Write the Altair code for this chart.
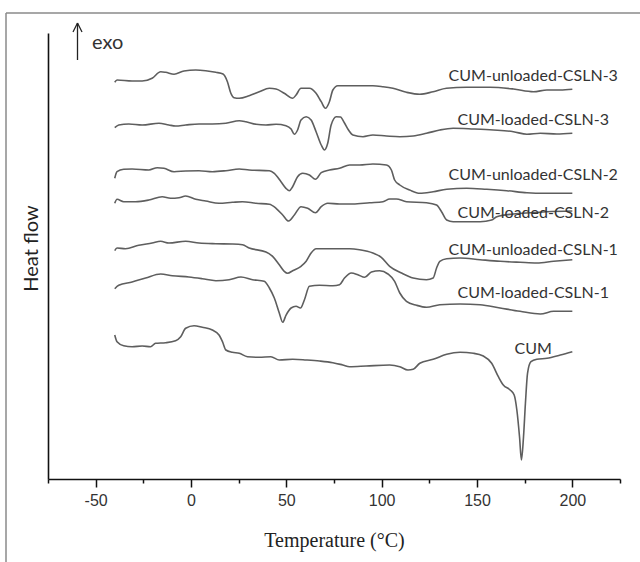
import altair as alt
import pandas as pd

# ---- Data (temperature in degC, heat flow in arbitrary units) ----
series_names = [
    "CUM-unloaded-CSLN-3", "CUM-loaded-CSLN-3", "CUM-unloaded-CSLN-2",
    "CUM-loaded-CSLN-2", "CUM-unloaded-CSLN-1", "CUM-loaded-CSLN-1", "CUM",
]

t_unloaded3 = [-40, -38.8, -30.9, -25.6, -20.4, -15.9, -13.3, -8.9, -3.7, 2.5, 7.7, 13, 16.8, 19.1, 20.9,
               22.6, 25.3, 30.5, 35.8, 41.1, 44.6, 48.9, 53.3, 55.1, 57.7, 62.1, 65.6, 68.3, 70.5, 72.6,
               74.4, 77, 83.2, 95.4, 100.7, 105.9, 113, 120, 127, 134, 144.6, 156.8, 169.1, 179.6, 186.7,
               193.7, 200]
hf_unloaded3 = [396.7, 399, 398, 398, 400.7, 407.3, 406.7, 404.7, 408, 409, 408.3, 406.7, 405, 397.3, 385.7,
                381.3, 380.7, 383.3, 387.3, 390.7, 390, 385.7, 380.7, 384, 390.7, 390.7, 385.7, 377.3, 370.7,
                377.3, 389, 393.3, 393.3, 393.3, 392.3, 390.7, 386.7, 384.7, 387.3, 390.7, 391.7, 391.7, 390,
                387.3, 389, 389, 389.7]

t_loaded3 = [-40, -37.9, -32.6, -25.6, -16.8, -11.6, -8.1, -2.8, 4.2, 11.2, 18.3, 25.3, 28.8, 34.1, 39.3,
             44.6, 49.8, 52.5, 54.2, 55.9, 57.7, 60.4, 63, 65.6, 68.3, 70, 71.7, 73.5, 76.2, 78.4, 80.5,
             82.6, 84.9, 90.2, 95.4, 102.5, 109.5, 116.5, 123.5, 130.5, 137.5, 148.1, 158.6, 169.1, 176.2,
             183.2, 191.9, 200]
hf_loaded3 = [351.3, 354, 355, 354, 355.7, 354, 353, 354, 355, 355, 355.7, 358.3, 357.3, 354.7, 354,
              354.7, 353.3, 350, 344.7, 349, 359, 362.3, 359, 347.3, 334, 329, 335.7, 354, 362.3, 362, 356,
              349, 344, 342.3, 344, 343, 342.3, 343, 345.7, 349, 350.7, 350, 349, 347.3, 344.7, 345.7, 345,
              345.7]

t_unloaded2 = [-40, -38.8, -35.3, -30.9, -22.1, -17.7, -14.2, -8.9, -2.8, 4.2, 11.2, 18.3, 25.3, 30.5, 41.1,
               43.7, 47.2, 49.8, 51.6, 53.3, 55.9, 58.6, 62.1, 65.3, 68.3, 72.6, 77.9, 83.2, 88.4, 95.4,
               102.5, 105.1, 106.8, 109.5, 114.7, 120, 127, 134.1, 144.6, 155.1, 165.6, 176.2, 184.9, 193.7,
               200]
hf_unloaded2 = [300.7, 307.3, 309.7, 310, 309, 311.3, 310.7, 307.3, 308, 308.3, 307.3, 308.3, 310, 309, 308.3,
                305.7, 297.3, 290.7, 288.3, 292.3, 302.3, 305.7, 304, 299.7, 306.3, 309, 310.7, 314, 314, 315,
                314, 309, 299, 294, 289, 285.7, 287.3, 289.7, 290.7, 289.7, 288.3, 286.3, 285.7, 285.7, 285.7]

t_loaded2 = [-40, -38.8, -35.3, -29.1, -22.1, -15.1, -10.7, -6.3, -2.8, 2.5, 7.7, 14.7, 21.7, 27, 34.1, 41.1,
             44.6, 48.1, 51.2, 54.2, 57.7, 61.2, 65.3, 68.3, 71.7, 77.9, 84.9, 93.7, 100.7, 104.2, 107.7,
             113, 123.5, 128.8, 131.4, 134.1, 137.5, 144.6, 151.6, 157.7, 160.4, 169.1, 177.9, 186.7, 200]
hf_loaded2 = [275.7, 279.7, 277.3, 277.3, 279, 282.3, 280.7, 281.3, 283, 279.7, 278, 275.7, 276.7, 277.3,
              275.7, 274.7, 270.7, 264, 258, 264, 272.3, 270.7, 266.3, 272.3, 275.7, 275, 275, 276.3, 277.3,
              280, 280, 277.3, 276.3, 274, 267.3, 259, 257.3, 257.3, 257.3, 259, 262.3, 265, 266.3, 267.3, 268]

t_unloaded1 = [-40, -38.8, -34.4, -27.4, -20.4, -15.9, -11.6, -2.8, 4.2, 13, 21.7, 27, 30.5, 39.3, 42.8, 46.3,
               48.9, 50.7, 53.3, 57.7, 60.4, 63, 65.6, 74.4, 83.2, 88.4, 95.4, 99.8, 104.2, 110.4, 116.5,
               123.5, 127, 128.8, 130.5, 134.1, 141.1, 151.6, 162.1, 172.6, 181.4, 190.2, 200]
hf_unloaded1 = [228.3, 231, 230.3, 233.7, 236, 237.7, 236, 237.7, 236, 235.3, 235, 234.3, 231, 227, 222.7,
                214.3, 207.7, 205.7, 208.3, 212.7, 217.7, 226, 230.3, 230.3, 230.3, 229.3, 226, 221.7, 212.7,
                206, 201, 199.3, 201, 211, 217.7, 220.3, 221, 219.3, 217.7, 216.7, 216, 217.7, 219.3]

t_loaded1 = [-40, -37.9, -30.9, -23.8, -15.9, -9.8, -1.1, 5.9, 13, 20, 26.2, 32.3, 38.4, 41.1, 43.7, 46.3,
             48.1, 49.8, 52.5, 55.1, 57.4, 59.5, 62.1, 67.4, 74.4, 77.9, 80.5, 84.1, 87.5, 91.1, 94.6, 98.9,
             103.3, 106.8, 109.5, 113, 118.3, 123.5, 130.5, 141.1, 151.6, 162.1, 172.6, 183.2, 190.2, 200]
hf_loaded1 = [190.3, 193.7, 197, 201, 205, 203.3, 202, 200.3, 198.3, 199.3, 202, 199.3, 197.7, 191, 181, 166,
              156.7, 163.7, 171, 172.7, 171, 179.3, 192.7, 193.7, 193.3, 194.3, 201, 206, 204.3, 201.7, 207,
              208.3, 205, 197.7, 186, 177.7, 173.7, 171.7, 174.3, 175, 174.3, 171, 167.7, 165, 167.7, 167.7]

t_cum = [-40, -38.8, -35.3, -30.9, -25.6, -21.2, -18.6, -13.3, -8.1, -5.4, -2.8, 1.6, 5.9, 11.2, 14.7, 16.5,
         18.3, 21.7, 25.3, 29.6, 35.8, 41.9, 46.3, 53.3, 60.4, 67.4, 74.4, 79.6, 83.2, 91.9, 104.2, 109.5,
         113.8, 116.5, 120, 127, 134.1, 141.1, 148.1, 153.3, 157.7, 161.2, 163.8, 167.4, 169.5, 170.9, 172.3,
         173.3, 174.4, 175.4, 176.5, 178.3, 181.4, 186.7, 193.7, 200]
hf_cum = [144, 137.3, 133.3, 132.3, 133, 132.3, 135.7, 136.3, 138.3, 142.3, 150.7, 153.3, 151.7, 149, 144,
          137.3, 129, 126.7, 125.7, 122.3, 121.7, 122.3, 119, 119.7, 119, 118, 116.3, 114, 112.3, 113, 114,
          112.3, 109, 109.7, 115.7, 119.7, 124.7, 126.7, 125.7, 123, 115.7, 102.3, 94, 89, 84, 69, 42.3, 19,
          42.3, 75.7, 105.7, 117.3, 119.7, 120.7, 124, 127.3]

label_t = [179.5, 179.5, 179.5, 179.5, 179.5, 179.5, 179.5]
label_hf = [403, 359, 304, 266, 229, 186, 130]

# ---- Build tables ----
all_t = [t_unloaded3, t_loaded3, t_unloaded2, t_loaded2, t_unloaded1, t_loaded1, t_cum]
all_hf = [hf_unloaded3, hf_loaded3, hf_unloaded2, hf_loaded2, hf_unloaded1, hf_loaded1, hf_cum]
rows = []
for name, ts, hs in zip(series_names, all_t, all_hf):
    for t, h in zip(ts, hs):
        rows.append({"series": name, "T": t, "HF": h})
df = pd.DataFrame(rows)
df_labels = pd.DataFrame({"label": series_names, "T": label_t, "HF": label_hf})
one = pd.DataFrame({"a": [0]})

X_TITLE = "Temperature (°C)"
Y_TITLE = "Heat flow"

x_enc = alt.X(
    "T:Q",
    title=X_TITLE,
    scale=alt.Scale(domain=[-75, 225], nice=False, zero=False),
    axis=alt.Axis(
        values=list(range(-75, 226, 25)),
        labelExpr="datum.value % 50 === 0 ? ('' + datum.value) : ''",
        labelOverlap=False,
        labelFlush=False,
        tickSize={"condition": {"test": "datum.value % 50 === 0", "value": 8}, "value": 4},
        tickColor="#111",
        tickWidth=1.5,
        domainColor="#111",
        domainWidth=1.6,
        grid=False,
        labelFont="Liberation Sans",
        labelFontSize=16,
        labelColor="#333",
        labelPadding=5,
        titleFont="Liberation Serif",
        titleFontSize=20,
        titleFontWeight="normal",
        titleColor="#222",
        titleY=61,
        titleBaseline="middle",
    ),
)
y_enc = alt.Y(
    "HF:Q",
    title=Y_TITLE,
    scale=alt.Scale(domain=[0, 446], nice=False, zero=False),
    axis=alt.Axis(
        ticks=False,
        labels=False,
        grid=False,
        domainColor="#111",
        domainWidth=1.6,
        titleFont="Lato",
        titleFontSize=20,
        titleFontWeight="normal",
        titleColor="#222",
        titleAngle=270,
        titleX=-17,
        titleY=215,
        titleBaseline="middle",
    ),
)

lines = alt.Chart(df).mark_line(color="#5e5e5e", strokeWidth=1.6, interpolate="monotone").encode(
    x=x_enc, y=y_enc, detail="series:N"
)

labels = alt.Chart(df_labels).mark_text(
    font="Lato", fontSize=16, color="#333", align="center", baseline="middle"
).encode(
    x=alt.X("T:Q", title=X_TITLE),
    y=alt.Y("HF:Q", title=Y_TITLE),
    text="label:N",
)

def seg(x1, y1, x2, y2, color, width):
    return alt.Chart(one).mark_rule(color=color, strokeWidth=width).encode(
        x=alt.value(x1), y=alt.value(y1), x2=alt.value(x2), y2=alt.value(y2)
    )

frame_top = seg(-42, -20, 592, -20, "#8a8a8a", 1.5)
frame_left = seg(-42, -20, -42, 529, "#8a8a8a", 1.5)
arrow_shaft = seg(29.5, -10, 29.5, 27, "#222", 1.3)
arrow_l = seg(29.5, -10, 25, -1, "#222", 1.3)
arrow_r = seg(29.5, -10, 34, -1, "#222", 1.3)
exo = alt.Chart(one).mark_text(
    text="exo", font="Lato", fontSize=20, color="#333", align="left", baseline="middle"
).encode(x=alt.value(44), y=alt.value(10))

chart = alt.layer(
    frame_top, frame_left, lines, labels, arrow_shaft, arrow_l, arrow_r, exo
).properties(
    width=572,
    height=446,
    padding={"left": 48, "top": 33, "right": 20, "bottom": 83},
    autosize=alt.AutoSizeParams(type="none"),
).configure_view(stroke=None)

chart.save("out.html", embed_options={"renderer": "svg", "actions": False})
